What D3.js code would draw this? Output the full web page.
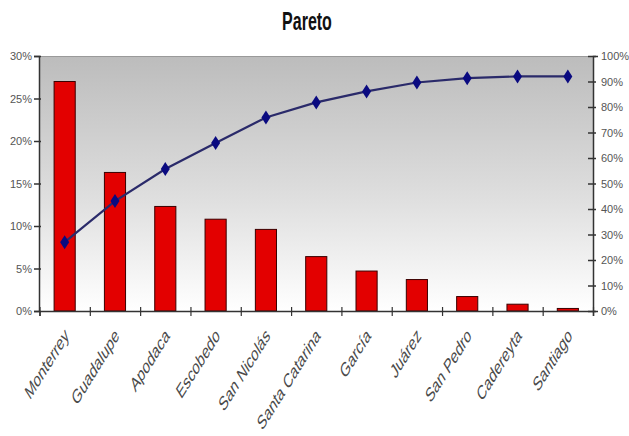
<!DOCTYPE html>
<html><head><meta charset="utf-8">
<script src="https://cdn.jsdelivr.net/npm/d3@7"></script>
<style>
html,body{margin:0;padding:0;background:#fff;}
text{font-family:"Liberation Sans",Arial,sans-serif;}
</style></head>
<body>
<svg id="chart" width="629" height="436"></svg>
<script>
const categories = ["Monterrey","Guadalupe","Apodaca","Escobedo","San Nicolás","Santa Catarina","García","Juárez","San Pedro","Cadereyta","Santiago"];
const share = [27.0,16.3,12.3,10.8,9.6,6.4,4.7,3.7,1.7,0.8,0.3];
const cumulative = [27.0,43.1,55.7,65.9,75.9,81.8,86.1,89.6,91.3,92.0,92.0];
const leftTicks = [0,5,10,15,20,25,30];
const rightTicks = [0,10,20,30,40,50,60,70,80,90,100];
const title = "Pareto";

const svg = d3.select("#chart");
const L = 39, R = 593, T = 56, B = 311;

const x = d3.scaleBand().domain(categories).range([L+0.5, R]).paddingInner(0.58).paddingOuter(0.29);
const xIdx = d3.scaleLinear().domain([0, categories.length]).range([L+0.5, R]);
const yL = d3.scaleLinear().domain([0,30]).range([B, T]);
const yR = d3.scaleLinear().domain([0,100]).range([B, T]);

const defs = svg.append("defs");
const g = defs.append("linearGradient").attr("id","bg").attr("x1",0).attr("y1",0).attr("x2",0).attr("y2",1);
g.append("stop").attr("offset","0%").attr("stop-color","#bcbcbc");
g.append("stop").attr("offset","55%").attr("stop-color","#dedede");
g.append("stop").attr("offset","100%").attr("stop-color","#ffffff");

svg.append("rect").attr("x",L).attr("y",T).attr("width",R-L).attr("height",B-T).attr("fill","url(#bg)");
svg.append("line").attr("x1",L).attr("x2",R).attr("y1",T+0.5).attr("y2",T+0.5).attr("stroke","#9a9a9a");

// title
svg.append("text").attr("transform","translate(307,30) scale(1,1.6)")
  .attr("text-anchor","middle").attr("font-weight","bold").attr("font-size",16).attr("fill","#111").text(title);

// bars
svg.selectAll("rect.bar").data(share).join("rect").attr("class","bar")
  .attr("x",(d,i)=>x(categories[i])).attr("width",x.bandwidth())
  .attr("y",d=>yL(d)).attr("height",d=>B-yL(d))
  .attr("fill","#e30000").attr("stroke","#3a0000").attr("stroke-width",1);

// left axis
const axL = svg.append("g").attr("transform",`translate(${L},0)`).attr("color","#555")
  .call(d3.axisLeft(yL).tickValues(leftTicks).tickFormat(d=>d+"%").tickSizeOuter(0).tickSize(5));
axL.select(".domain").attr("stroke","#333").attr("stroke-width",1.5);
axL.selectAll(".tick line").attr("x1",2).attr("x2",-5).attr("stroke","#333").attr("stroke-width",1.5);
axL.selectAll(".tick text").attr("x",-7).attr("font-size",11).attr("fill","#555").attr("font-family","'Liberation Sans',Arial,sans-serif");

// right axis
const axR = svg.append("g").attr("transform",`translate(${R},0)`).attr("color","#555")
  .call(d3.axisRight(yR).tickValues(rightTicks).tickFormat(d=>d+"%").tickSizeOuter(0).tickSize(5));
axR.select(".domain").attr("stroke","#333").attr("stroke-width",1.5);
axR.selectAll(".tick line").attr("x1",-5).attr("x2",3).attr("stroke","#333").attr("stroke-width",1.5);
axR.selectAll(".tick text").attr("x",8).attr("font-size",11).attr("fill","#555").attr("font-family","'Liberation Sans',Arial,sans-serif");

// bottom axis
const axB = svg.append("g").attr("transform",`translate(0,${B})`)
  .call(d3.axisBottom(xIdx).tickValues(d3.range(categories.length+1)).tickFormat("").tickSizeOuter(0).tickSize(5));
axB.select(".domain").attr("stroke","#333").attr("stroke-width",1.5);
axB.selectAll(".tick line").attr("y1",-4).attr("y2",5).attr("stroke","#333").attr("stroke-width",1.2);

// category labels
svg.selectAll("text.cat").data(categories).join("text").attr("class","cat")
  .attr("transform",d=>`translate(${x(d)+x.bandwidth()/2+5},${B+26}) scale(1,1.6) rotate(-45)`)
  .attr("text-anchor","end").attr("font-size",12.5).attr("fill","#4a4a4a").text(d=>d);

// cumulative line
const cx = (d,i)=>x(categories[i])+x.bandwidth()/2;
svg.append("path").datum(cumulative)
  .attr("d", d3.line().x(cx).y(d=>yR(d)))
  .attr("fill","none").attr("stroke","#2a2a6a").attr("stroke-width",2.2);
svg.selectAll("path.mk").data(cumulative).join("path").attr("class","mk")
  .attr("transform",(d,i)=>`translate(${cx(d,i)},${yR(d)})`)
  .attr("d","M0,-7L4.5,0L0,7L-4.5,0Z").attr("fill","#0a0a80");
</script>
</body></html>
